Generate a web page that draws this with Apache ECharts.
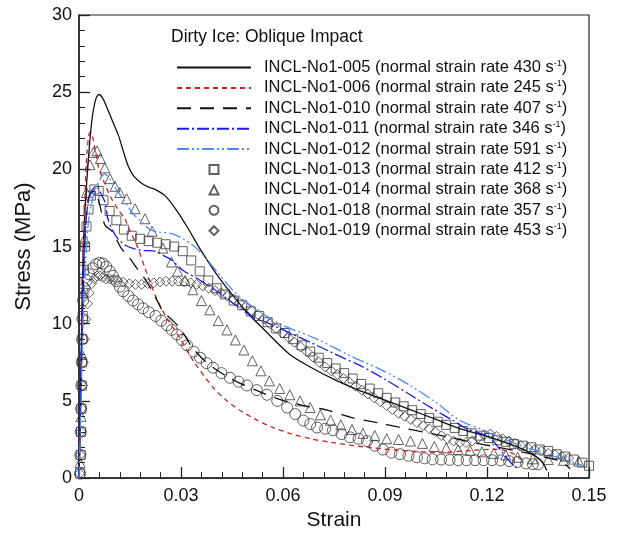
<!DOCTYPE html>
<html>
<head>
<meta charset="utf-8">
<script src="https://cdn.jsdelivr.net/npm/echarts@6/dist/echarts.min.js"></script>
<style>
html,body{margin:0;padding:0;background:#fff;}
#chart{width:619px;height:536px;}
</style>
</head>
<body>
<div id="chart"></div>
<script>
// specimen ids and normal strain rates (s^-1)
var ids=['005','006','010','011','012','013','014','018','019'];
var rates=[430,245,407,346,591,412,368,357,453];

// [strain, stress MPa]
var s005=[[0,0],[0.0003,3],[0.0005,6],[0.0008,10],[0.0012,14.5],[0.0018,17.5],[0.0027,20.5],[0.0038,23.2],[0.005,24.6],[0.0059,24.85],[0.007,24.6],[0.0086,23.8],[0.0101,23.0],[0.0116,22.2],[0.013,21.2],[0.0145,20.2],[0.016,19.6],[0.0184,19.1],[0.0205,18.85],[0.0224,18.7],[0.0253,18.3],[0.029,17.25],[0.032,16.2],[0.036,14.7],[0.0405,13.2],[0.045,11.9],[0.05,10.6],[0.055,9.5],[0.062,8.0],[0.068,7.2],[0.075,6.4],[0.0826,5.67],[0.09,5.05],[0.0974,4.44],[0.105,3.8],[0.112,3.2],[0.12,2.7],[0.128,2.1],[0.133,1.6],[0.136,1.1],[0.1376,0.5]];
var s006=[[0,0],[0.0004,4],[0.0008,9],[0.0012,14],[0.0018,18.5],[0.0024,21.2],[0.0032,22.4],[0.004,22.1],[0.0048,21.2],[0.0057,20.2],[0.0075,19.1],[0.0096,18.1],[0.0115,17.4],[0.0135,16.8],[0.015,16.0],[0.017,15.1],[0.0194,13.6],[0.0228,11.65],[0.026,10.3],[0.0297,9.08],[0.0336,7.6],[0.0395,5.86],[0.0435,5.0],[0.0474,4.38],[0.052,3.8],[0.057,3.28],[0.062,2.9],[0.068,2.55],[0.0747,2.3],[0.0847,2.0],[0.0944,1.8],[0.106,1.67],[0.116,1.8],[0.122,1.87],[0.125,1.8],[0.128,1.55],[0.13,1.2]];
var s010=[[0,0],[0.0006,6],[0.0012,12],[0.002,16.5],[0.003,18.3],[0.0045,18.6],[0.006,17.8],[0.0076,16.4],[0.0097,16.0],[0.0124,14.9],[0.0144,14.4],[0.017,13.6],[0.02,12.7],[0.023,11.5],[0.0247,10.8],[0.0276,10.2],[0.0297,9.7],[0.0318,9.0],[0.0335,8.4],[0.038,7.4],[0.045,6.4],[0.052,5.7],[0.059,5.1],[0.066,4.7],[0.073,4.4],[0.0806,3.9],[0.0876,3.6],[0.0944,3.28],[0.102,2.96],[0.109,2.64],[0.116,2.3],[0.122,2.05],[0.13,1.7],[0.136,1.4],[0.1415,1.1],[0.1445,0.6]];
var s011=[[0,0],[0.0005,5],[0.0009,10],[0.0013,13.5],[0.002,16.5],[0.003,18.2],[0.0045,18.8],[0.0055,18.8],[0.0065,18.4],[0.0076,17.9],[0.0085,16.8],[0.01,16.0],[0.0115,15.5],[0.0135,15.1],[0.0156,14.9],[0.0185,14.75],[0.0224,14.7],[0.025,14.4],[0.0274,14.1],[0.0306,13.45],[0.035,12.9],[0.0406,12.1],[0.0455,11.3],[0.0503,10.56],[0.055,10.1],[0.061,9.5],[0.068,8.8],[0.0776,7.8],[0.0826,7.3],[0.09,6.4],[0.0974,5.4],[0.104,4.5],[0.11,3.73],[0.114,3.2],[0.118,2.9],[0.121,2.6],[0.124,1.8],[0.127,1.0],[0.129,0.6]];
var s012=[[0,0],[0.0005,4],[0.001,8.5],[0.0015,12],[0.0022,15],[0.003,17],[0.0045,18.5],[0.006,19.3],[0.0076,19.7],[0.009,19.4],[0.011,18.7],[0.0135,17.9],[0.016,17.1],[0.0185,16.6],[0.0209,16.1],[0.0232,15.95],[0.027,15.85],[0.0306,15.5],[0.035,14.8],[0.0405,13.4],[0.046,12.0],[0.053,10.8],[0.06,9.9],[0.07,9.0],[0.08,7.9],[0.09,6.9],[0.0974,6.0],[0.105,4.9],[0.112,3.73],[0.119,3.1],[0.125,2.5],[0.1315,2.0],[0.1385,1.5],[0.148,0.84]];
var s013=[[0.0003,0.3],[0.0005,1.5],[0.0006,3],[0.0007,4.5],[0.0008,6],[0.0009,7.5],[0.001,9],[0.0011,10.5],[0.0013,12],[0.0015,13.5],[0.0018,15],[0.0022,16.3],[0.0028,17.4],[0.0035,18.3],[0.0045,18.7],[0.0058,18.6],[0.0072,18.0],[0.009,17.3],[0.011,16.7],[0.0132,16.1],[0.0155,15.7],[0.018,15.5],[0.0205,15.35],[0.023,15.25],[0.0255,15.15],[0.028,15.0],[0.0305,14.7],[0.033,14.1],[0.0355,13.4],[0.038,12.8],[0.0405,12.3],[0.043,11.9],[0.0455,11.5],[0.048,11.2],[0.0505,10.8],[0.053,10.5],[0.0555,10.1],[0.058,9.7],[0.0605,9.4],[0.063,9.0],[0.0655,8.6],[0.068,8.2],[0.0705,7.8],[0.073,7.45],[0.0755,7.1],[0.078,6.8],[0.0805,6.45],[0.083,6.1],[0.0855,5.8],[0.088,5.5],[0.0905,5.2],[0.093,4.9],[0.0955,4.65],[0.098,4.4],[0.1005,4.15],[0.103,3.9],[0.1055,3.65],[0.108,3.45],[0.1105,3.25],[0.113,3.05],[0.1155,2.9],[0.118,2.75],[0.1205,2.6],[0.123,2.45],[0.1255,2.35],[0.128,2.2],[0.1305,2.1],[0.133,2.0],[0.1355,1.85],[0.138,1.75],[0.1405,1.55],[0.143,1.4],[0.1455,1.2],[0.148,1.0],[0.15,0.8]];
var s014=[[0.0003,1],[0.0006,4],[0.0009,8],[0.0012,12],[0.0016,15.5],[0.0022,18.5],[0.0032,20.3],[0.0042,21.1],[0.0053,21.2],[0.0063,20.7],[0.0076,20.1],[0.0091,19.4],[0.0106,18.9],[0.012,18.5],[0.014,18.1],[0.0165,17.45],[0.0194,16.8],[0.0215,16.0],[0.0247,14.9],[0.0272,14.0],[0.029,13.4],[0.0312,12.8],[0.0335,12.2],[0.036,11.5],[0.0385,10.9],[0.041,10.2],[0.0435,9.6],[0.046,8.95],[0.0485,8.3],[0.051,7.6],[0.0535,6.95],[0.056,6.3],[0.059,5.8],[0.062,5.4],[0.065,5.0],[0.068,4.57],[0.071,4.1],[0.074,3.75],[0.077,3.45],[0.0803,3.15],[0.0835,2.9],[0.087,2.75],[0.0905,2.55],[0.094,2.5],[0.0975,2.4],[0.101,2.25],[0.1045,2.05],[0.108,1.95],[0.1115,1.85],[0.115,1.8],[0.1185,1.7],[0.122,1.6],[0.1255,1.5],[0.129,1.35],[0.1335,1.25],[0.138,1.2],[0.1425,1.15],[0.147,1.1]];
var s018=[[0.0003,0.3],[0.0004,1.5],[0.0005,3],[0.0006,4.5],[0.0007,6],[0.0008,7.5],[0.0009,9],[0.001,10.3],[0.0012,11.5],[0.0016,12.3],[0.0022,12.8],[0.003,13.2],[0.004,13.6],[0.005,13.85],[0.006,13.95],[0.007,13.9],[0.008,13.7],[0.0091,13.4],[0.01,13.1],[0.011,12.75],[0.012,12.4],[0.013,12.1],[0.0145,11.8],[0.0159,11.5],[0.0174,11.25],[0.0188,11.0],[0.0205,10.75],[0.0225,10.5],[0.0242,10.2],[0.0259,9.9],[0.0273,9.6],[0.0288,9.3],[0.0303,8.95],[0.0318,8.6],[0.0337,8.2],[0.0356,7.8],[0.0375,7.45],[0.0394,7.15],[0.0419,6.8],[0.0444,6.5],[0.0469,6.25],[0.0494,6.0],[0.0523,5.7],[0.0553,5.4],[0.0583,5.0],[0.0612,4.57],[0.0636,4.15],[0.066,3.73],[0.068,3.5],[0.07,3.28],[0.0724,3.2],[0.0747,3.1],[0.0772,2.85],[0.0797,2.64],[0.0822,2.55],[0.0847,2.4],[0.087,2.1],[0.0894,1.85],[0.0919,1.65],[0.0944,1.55],[0.0969,1.45],[0.0994,1.35],[0.1017,1.28],[0.104,1.22],[0.1065,1.2],[0.109,1.18],[0.1115,1.16],[0.114,1.16],[0.1165,1.16],[0.119,1.16],[0.1215,1.16],[0.124,1.15],[0.1265,1.1],[0.129,1.05],[0.1315,0.95],[0.1335,0.9],[0.135,0.9]];
var s019=[[0.0002,0.3],[0.0004,1.5],[0.0006,3],[0.0008,4.5],[0.001,6],[0.0013,7.5],[0.0016,9],[0.002,10.3],[0.0025,11.3],[0.003,12.0],[0.0037,12.6],[0.0045,12.9],[0.0053,13.1],[0.0062,13.1],[0.007,13.0],[0.008,12.9],[0.009,12.9],[0.01,12.85],[0.0112,12.8],[0.013,12.7],[0.0148,12.6],[0.0166,12.55],[0.0184,12.55],[0.0202,12.6],[0.022,12.65],[0.0238,12.7],[0.0256,12.75],[0.0274,12.75],[0.0292,12.75],[0.031,12.7],[0.0328,12.65],[0.0346,12.55],[0.0364,12.45],[0.0382,12.3],[0.04,12.15],[0.0418,12.0],[0.0436,11.8],[0.0454,11.6],[0.0472,11.35],[0.049,11.1],[0.0508,10.85],[0.0526,10.6],[0.0544,10.3],[0.0562,10.0],[0.058,9.7],[0.0598,9.4],[0.0616,9.1],[0.0634,8.8],[0.0652,8.5],[0.067,8.2],[0.0688,7.85],[0.0706,7.5],[0.0724,7.2],[0.0742,6.95],[0.076,6.7],[0.0778,6.45],[0.0796,6.2],[0.0814,5.95],[0.0832,5.7],[0.085,5.45],[0.0868,5.2],[0.0886,4.95],[0.0904,4.7],[0.0922,4.45],[0.094,4.2],[0.0958,4.0],[0.0976,3.8],[0.0994,3.6],[0.1012,3.4],[0.103,3.2],[0.1048,3.0],[0.1066,2.75],[0.1084,2.55],[0.1102,2.4],[0.112,2.3],[0.1138,2.3],[0.1156,2.4],[0.1174,2.6],[0.1192,2.8],[0.121,2.85],[0.1228,2.7],[0.1246,2.55],[0.1264,2.4],[0.1282,2.25],[0.13,2.1],[0.132,1.95],[0.134,1.85],[0.136,1.75],[0.138,1.6],[0.14,1.5],[0.142,1.4],[0.144,1.3]];

var FONT="'Liberation Sans', Arial, sans-serif";
function nm(i){
	return 'INCL-No1-'+ids[i]+' (normal strain rate '+rates[i]+' s⁻¹)';
}
var lineSpec=[
	{d:s005,c:'#111111',t:'solid'},
	{d:s006,c:'#cc2222',t:[5,4]},
	{d:s010,c:'#111111',t:[14,9]},
	{d:s011,c:'#1c1ce6',t:[12,3,2,3]},
	{d:s012,c:'#4a88ff',t:[12,3,2,3,2,3]}
];
// path icons keep their aspect inside the wide legend box
var scatSpec=[
	{d:s013,s:'rect',z:9,icon:'path://M0,0H10V10H0Z'},
	{d:s014,s:'triangle',z:10,icon:'path://M5,0L10,10L0,10Z'},
	{d:s018,s:'circle',z:11,icon:'path://M5,0A5,5 0 1,1 4.99,0Z'},
	{d:s019,s:'diamond',z:10,icon:'path://M5,0L10,5L5,10L0,5Z'}
];
var series=[];
var legendData=[];
for(var i=0;i<lineSpec.length;i++){
	series.push({
		name:nm(i),
		type:'line',
		data:lineSpec[i].d,
		symbol:'none',
		smooth:0.3,
		lineStyle:{color:lineSpec[i].c,width:1.3,type:lineSpec[i].t},
		itemStyle:{color:lineSpec[i].c}
	});
	legendData.push({name:nm(i),itemStyle:{opacity:0}});
}
for(var j=0;j<scatSpec.length;j++){
	series.push({
		name:nm(j+5),
		type:'scatter',
		data:scatSpec[j].d,
		symbol:scatSpec[j].s,
		symbolSize:scatSpec[j].z,
		itemStyle:{color:'rgba(0,0,0,0)',borderColor:'#3a3a3a',borderWidth:1}
	});
	legendData.push({name:nm(j+5),icon:scatSpec[j].icon});
}

var chart=echarts.init(document.getElementById('chart'));
chart.setOption({
	animation:false,
	backgroundColor:'#fff',
	textStyle:{fontFamily:FONT},
	title:{
		text:'Dirty Ice: Oblique Impact',
		left:171,top:28,padding:0,
		textStyle:{fontSize:17.5,fontWeight:'normal',color:'#111',fontFamily:FONT}
	},
	legend:{
		orient:'vertical',
		left:176,top:59,padding:0,
		itemWidth:74,itemHeight:9,itemGap:3.4,
		symbolKeepAspect:true,
		data:legendData,
		formatter:function(name){
			var k=name.indexOf(' s⁻¹)');
			return '{t|'+name.slice(0,k)+' s}{sup|-1}{t|)}';
		},
		textStyle:{
			color:'#111',fontFamily:FONT,padding:[0,0,0,8],
			rich:{
				t:{fontSize:16.5,lineHeight:17,color:'#111',fontFamily:FONT},
				sup:{fontSize:9,lineHeight:9,verticalAlign:'top',color:'#111',fontFamily:FONT}
			}
		}
	},
	grid:{left:79,right:30,top:15,bottom:55,show:true,borderColor:'#222',borderWidth:1.2,backgroundColor:'rgba(0,0,0,0)'},
	xAxis:{
		type:'value',min:0,max:0.15,interval:0.03,
		name:'Strain',nameLocation:'middle',nameGap:31,
		nameTextStyle:{fontSize:21,color:'#111',fontFamily:FONT},
		axisLine:{lineStyle:{color:'#222',width:1.5}},
		axisTick:{inside:true,length:11,lineStyle:{color:'#222',width:1.3}},
		minorTick:{show:true,splitNumber:5,length:6,lineStyle:{color:'#222',width:1}},
		splitLine:{show:false},
		axisLabel:{fontSize:18,color:'#111',margin:9,fontFamily:FONT,
			formatter:function(v){return v===0?'0':v.toFixed(2);}}
	},
	yAxis:{
		type:'value',min:0,max:30,interval:5,
		name:'Stress (MPa)',nameLocation:'middle',nameGap:44,
		nameTextStyle:{fontSize:22,color:'#111',fontFamily:FONT},
		axisLine:{lineStyle:{color:'#222',width:1.5}},
		axisTick:{inside:true,length:11,lineStyle:{color:'#222',width:1.3}},
		minorTick:{show:true,splitNumber:5,length:6,lineStyle:{color:'#222',width:1}},
		splitLine:{show:false},
		axisLabel:{fontSize:18,color:'#111',margin:7,fontFamily:FONT}
	},
	series:series
});
</script>
</body>
</html>
